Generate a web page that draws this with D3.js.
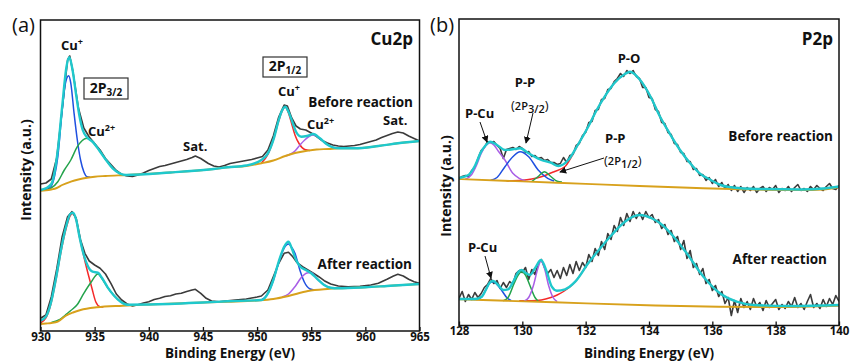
<!DOCTYPE html>
<html>
<head>
<meta charset="utf-8">
<script src="https://cdn.jsdelivr.net/npm/d3@7"></script>
<style>
  body { margin: 0; background: #fff; }
  svg { display: block; font-family: "Open Sans", "Noto Sans", sans-serif; }
</style>
</head>
<body>
<svg id="chart" width="852" height="363"></svg>
<script>
// ---- Cu 2p panel: [binding energy, intensity] ----
const cuTicks = [930, 935, 940, 945, 950, 955, 960, 965];

const cuBeforeRaw = [[930,147],[930.5,148],[931,152],[931.5,173],[932,221],[932.5,271],[932.7,275],[933,259],[933.5,223],[934,203],[934.5,194],[935,187.5],[935.5,181],[936,172.5],[936.5,166.5],[937,160.5],[937.5,156.5],[938,155],[938.5,154.5],[939,156],[939.5,158],[940,160.5],[940.5,162.5],[941,164.5],[941.5,165.5],[942,167],[942.5,168.5],[943,170],[943.5,171.5],[944,173.5],[944.3,175],[944.8,172.5],[945.5,167.5],[946,165],[946.5,164],[947,165.5],[947.5,167.5],[948,168.5],[948.5,169.5],[949,170.5],[949.5,171.5],[950,173],[950.5,174.5],[951,181],[951.5,195],[952,214],[952.5,226],[952.8,225],[953.2,213],[953.6,205],[954,202],[954.5,201],[955,198],[955.5,194.5],[956,190.5],[956.5,188],[957,186],[957.5,185],[958,184.5],[958.5,185],[959,185.5],[959.5,186.5],[960,188],[960.5,189.5],[961,191],[961.5,193.5],[962,195.5],[962.5,197.5],[963,199],[963.5,198],[964,195],[964.5,192.5],[965,190]];
const cuBeforeFit = [[930,141],[930.5,142.7],[931,147],[931.6,181],[932,224.3],[932.4,264.3],[932.66,273.7],[932.96,261],[933.27,237.7],[933.58,216],[933.9,201],[934.3,193.7],[934.8,189.3],[935.4,181],[936.05,171],[936.67,162.7],[937.3,157.7],[937.9,156],[942,158.5],[946,162],[947.3,163.7],[949,165.5],[950.4,171],[951,177.7],[951.55,192.7],[952,211],[952.3,220.3],[952.6,224.3],[952.9,219.3],[953.3,207.7],[953.6,199.3],[954.1,194.3],[954.6,195],[955.2,197],[955.8,192.7],[956.4,187],[957,183.7],[957.6,182.7],[959,182.7],[961.2,185],[963,187.7],[965,190]];
const cuBeforeBase = [[930,140.3],[930.5,140.6],[931,141.5],[931.5,143],[932,146],[932.8,149.3],[933.5,151.5],[934.3,153.3],[935,154.3],[936,155],[938,156],[942,158.5],[946,162],[947.3,163.7],[949,165],[950.4,167.7],[951.5,170.5],[952.6,175],[953.5,178],[954.5,180],[955.5,181.5],[956.6,182],[957.6,182.7],[959,182.7],[961.2,185],[963,187.7],[965,190]];
const cuBeforeCu1a = [[930.4,141],[930.95,144.3],[931.3,155],[931.6,174.3],[932,221],[932.3,247.7],[932.6,255.3],[932.8,247.7],[933.1,217.7],[933.4,191],[933.7,171],[934,159.3],[934.3,154.3],[934.6,153.8]];
const cuBeforeCu2a = [[930.5,140.8],[930.95,142.7],[931.6,149.3],[932.2,161],[932.8,171],[933.4,184.3],[934.3,192.7],[934.8,189],[935.4,181],[936.05,171],[936.67,162.7],[937.3,157.7],[937.9,156]];
const cuBeforeCu1b = [[950.4,168],[951,176.5],[951.5,191],[952,210],[952.3,219.5],[952.6,224],[952.9,218],[953.2,207],[953.5,196],[953.9,187],[954.4,181.5],[954.9,180.5]];
const cuBeforeCu2b = [[952.6,175],[953,176.5],[953.5,180],[954,186.5],[954.4,191],[954.8,194.5],[955.2,196],[955.8,192.7],[956.4,187],[957,183.7],[957.6,182.7]];

const cuAfterRaw = [[930,12.7],[930.5,16],[931,34.3],[931.5,62],[932,94.3],[932.5,114.3],[932.9,119.3],[933.3,112.7],[933.7,91],[934.1,77.7],[934.5,70],[935,66],[935.5,62.7],[936,57],[936.5,47.7],[937,37],[937.5,31],[938,27],[938.5,25],[939,26.3],[939.5,28],[940,29.3],[940.5,31.5],[941,32.7],[941.5,34.5],[942,35.3],[942.5,37],[943,37.7],[943.5,39.5],[944,41],[944.3,41.7],[944.8,37.7],[945.3,32.7],[945.8,30],[946.5,29.3],[947.3,30.3],[948,31],[948.5,31.5],[949,32],[949.5,33],[950,34],[950.4,35],[951,41],[951.5,54.3],[952,67.7],[952.5,77.7],[952.9,78.7],[953.3,74.3],[953.7,68.3],[954.2,64.3],[954.7,61],[955.2,57.7],[955.7,54.3],[956.2,50.3],[956.8,47],[957.5,45],[958.4,44.3],[959.5,44.7],[960.5,46],[961.2,47.7],[962,51.7],[962.6,55],[963,56.7],[963.5,55],[964,51.7],[964.5,49.3],[965,47.7]];
const cuAfterFit = [[930,10.3],[930.5,14.3],[930.95,27.7],[931.4,51],[931.95,84.3],[932.4,106],[932.75,117],[933,118.3],[933.3,111],[933.6,94.3],[934,76],[934.4,64.3],[934.8,59.3],[935.3,58.3],[935.7,52.7],[936.2,43.7],[936.8,35.3],[937.4,29.3],[938,26.3],[940,26.5],[945,28.5],[947.3,29.7],[950.4,31],[951,37.7],[951.5,51],[952,69.3],[952.5,84.3],[952.9,89.3],[953.2,82.7],[953.6,71],[954,64.3],[954.5,61],[955,57.7],[955.6,51.7],[956.2,46],[956.8,43.3],[957.5,42.7],[960,43.7],[962,45],[965,47]];
const cuAfterBase = [[930,7],[930.5,7.5],[931,8],[931.6,9.3],[932.3,15],[933,18.5],[933.7,21],[935.2,23.7],[937.6,25.3],[940,26.5],[945,28.5],[947.3,29.3],[950,30.5],[951.5,32],[952.9,35],[954.7,40],[956.5,42],[957.5,42.7],[960,43.7],[962,45],[965,47]];
const cuAfterCu1a = [[930,8],[930.5,13],[930.95,26.5],[931.4,49.5],[931.95,82.5],[932.4,104],[932.75,115.5],[933,117.7],[933.3,110.5],[933.6,94],[933.85,82],[934.1,70],[934.4,57],[934.75,42.7],[935.1,29.3],[935.5,24.3],[935.8,23.9]];
const cuAfterCu2a = [[931,8.5],[931.8,11.5],[932.3,16],[932.8,20.5],[933.4,26.5],[934,37.7],[934.7,49.3],[935.3,57],[935.7,52],[936.2,43.5],[936.8,35.3],[937.4,29.3],[938,26.3]];
const cuAfterCu1b = [[950.4,31],[951,37.5],[951.5,50.5],[952,68.5],[952.5,83],[952.9,87],[953.2,83.5],[953.5,77.7],[953.95,61],[954.35,49.3],[954.9,42],[955.3,41]];
const cuAfterCu2b = [[952.3,34],[952.9,37],[953.5,44.3],[954.1,53.7],[954.6,58],[954.95,58.5],[955.6,51.5],[956.2,46],[956.8,43.3],[957.5,42.7]];

// ---- P 2p panel ----
const pTicks = [128, 130, 132, 134, 136, 138, 140];
const pEnergy = d3.range(121).map(i => +(128 + i * 0.1).toFixed(1));   // raw scan grid, 0.1 eV

const pBeforeRaw = [147,149,150,149,155,158,167,175,178,184,183,184,180,177,167,176,177,178,176,179,
  177,173,174,169,170,167,168,165,166,163,163,161,162,168,163,170,171,180,182,190,
  193,203,204,215,216,226,227,236,237,244,247,252,249,255,252,255,249,247,238,238,
  228,227,216,214,203,202,193,191,182,181,173,172,164,164,156,157,150,151,145,148,
  142,146,139,143,137,141,135,140,134,139,133,138,135,139,133,137,139,134,138,136,
  140,133,137,135,139,134,138,141,135,137,134,139,136,140,137,135,139,142,137,136,140];
const pBeforeFit = [[128,147.5],[128.3,150.5],[128.5,159.5],[128.7,173.8],[128.85,180.5],[128.98,183.8],[129.2,180.5],[129.45,175.5],[129.7,176.2],[129.93,177.2],[130.2,172.2],[130.6,165.5],[130.9,162.8],[131.14,159.5],[131.45,165.5],[131.75,180.5],[132.08,198.8],[132.35,215.5],[132.6,228.8],[132.9,242.2],[133.24,251.5],[133.4,253.8],[133.72,245.5],[134.05,228.8],[134.35,208.8],[134.65,192.2],[134.98,175.5],[135.3,162.2],[135.6,152.2],[135.95,145.5],[136.26,140.5],[136.6,138.2],[136.9,137.2],[137.5,136.5],[138.8,136],[139.5,137],[140,139]];
const pBeforeBase = [[128,146.5],[130,144.1],[132,141.6],[133.7,139.5],[135.5,137.5],[136.9,136.2],[138.8,135.5],[139.5,136],[140,138.5]];
const pBeforePCu = [[128.2,146.3],[128.4,151],[128.55,160],[128.7,172],[128.85,180],[128.98,182.8],[129.1,180.5],[129.25,174],[129.45,165.5],[129.7,152.2],[129.9,147.2],[130.1,144.8]];
const pBeforePP32 = [[129,145.3],[129.2,148],[129.45,158.8],[129.7,168.8],[129.93,173.8],[130.2,168.8],[130.5,155.5],[130.8,147.2],[131,144.5]];
const pBeforePP12 = [[130.3,144],[130.5,149],[130.7,153.8],[130.9,149],[131.1,144.3],[131.25,143.5]];
const pBeforePO = [[129.5,144.6],[130,145.2],[130.3,146.5],[130.6,148.8],[131,153.8],[131.35,159],[131.75,180.5],[132.08,198.8],[132.35,215.5],[132.6,228.8],[132.9,242.2],[133.24,251.5],[133.4,253.8],[133.72,245.5],[134.05,228.8],[134.35,208.8],[134.65,192.2],[134.98,175.5],[135.3,162.2],[135.6,152.2],[135.95,145.5],[136.26,140.5],[136.6,138.2],[136.9,137.2],[137.5,136.3]];

const pAfterRaw = [27,34,24,31,26,33,28,32,38,41,47,42,45,37,43,38,44,41,52,55,
  53,58,46,56,51,62,66,58,52,56,48,55,47,58,50,61,52,64,55,63,
  58,71,64,77,70,84,76,92,86,100,94,108,100,112,104,114,107,113,106,114,
  108,111,103,106,97,101,91,95,84,89,76,85,67,75,58,62,51,57,42,46,
  35,40,29,34,22,28,10,25,13,27,18,24,16,27,19,23,15,25,18,22,
  26,16,21,17,24,19,28,18,22,16,24,31,18,22,17,26,19,27,21,30,24];
const pAfterFit = [[128,26.5],[128.5,26.5],[128.72,28.8],[128.87,37.2],[128.97,42.8],[129.08,44.5],[129.24,40.5],[129.4,35.5],[129.55,36.2],[129.74,45.5],[129.88,53.8],[129.98,55.5],[130.1,52.8],[130.24,50.5],[130.4,57.2],[130.59,65.5],[130.77,53.8],[130.93,38.8],[131.09,34.8],[131.35,36.2],[131.67,43.8],[132.08,62.2],[132.5,78.8],[132.82,90.5],[133.24,103.8],[133.7,110.5],[134.1,107],[134.35,102.2],[134.8,88],[135.19,72.2],[135.72,48.8],[136.24,32.2],[136.77,23.8],[137.3,20.5],[138.5,19.5],[140,20.5]];
const pAfterBase = [[128,26.2],[131,23.2],[134.2,20],[136.2,18.8],[138,18.4],[140,19.8]];
const pAfterPCu = [[128.55,25.7],[128.72,28.8],[128.87,37],[128.97,42.5],[129.08,43.8],[129.2,41],[129.35,35],[129.52,27.5],[129.65,24.8]];
const pAfterPP32 = [[129.4,24.8],[129.55,28],[129.74,42],[129.88,51],[129.98,53.8],[130.1,50.5],[130.24,40],[130.4,28],[130.5,24.5]];
const pAfterPP12 = [[130.05,24.2],[130.2,28],[130.35,40],[130.48,56],[130.59,64.5],[130.7,57],[130.83,40],[130.97,28],[131.1,23.8]];
const pAfterPO = [[129.9,24.7],[130.3,24.8],[130.6,25.5],[130.9,28],[131.1,30.5],[131.35,35],[131.67,43.8],[132.08,62.2],[132.5,78.8],[132.82,90.5],[133.24,103.8],[133.7,110.5],[134.1,107],[134.35,102.2],[134.8,88],[135.19,72.2],[135.72,48.8],[136.24,32.2],[136.77,23.8],[137.3,20.5]];

const colors = {
  raw: '#3b3b3b', fit: '#1fc8cc', base: '#d8a11c',
  blue: '#1f50e0', green: '#23a34b', red: '#f42a2a', purple: '#a95fe6'
};

const svg = d3.select('#chart');

// arrow head for the annotation pointers
svg.append('defs').append('marker')
  .attr('id', 'arrow')
  .attr('viewBox', '0 0 8 8')
  .attr('refX', 7).attr('refY', 4)
  .attr('markerWidth', 7).attr('markerHeight', 7)
  .attr('markerUnits', 'userSpaceOnUse')
  .attr('orient', 'auto')
  .append('path').attr('d', 'M0,0 L8,4 L0,8 z').attr('fill', '#111');

function drawPanel(p) {
  const x = d3.scaleLinear().domain(p.xDomain).range([p.left, p.right]);
  const y = d3.scaleLinear().domain(p.yDomain).range([p.bottom, p.top]);

  svg.select('defs').append('clipPath').attr('id', p.id + '-clip')
    .append('rect')
    .attr('x', p.left).attr('y', p.top)
    .attr('width', p.right - p.left).attr('height', p.bottom - p.top);

  const g = svg.append('g').attr('clip-path', `url(#${p.id}-clip)`);

  const rawLine = d3.line().x(d => x(d[0])).y(d => y(d[1]));
  const smooth = d3.line().x(d => x(d[0])).y(d => y(d[1])).curve(d3.curveMonotoneX);

  p.spectra.forEach(s => {
    g.append('path').datum(s.raw).attr('d', rawLine)
      .attr('fill', 'none').attr('stroke', colors.raw).attr('stroke-width', 1.6)
      .attr('stroke-linejoin', 'round');
    s.parts.forEach(c => {
      g.append('path').datum(c.data).attr('d', smooth)
        .attr('fill', 'none').attr('stroke', colors[c.color]).attr('stroke-width', 1.5);
    });
    g.append('path').datum(s.base).attr('d', smooth)
      .attr('fill', 'none').attr('stroke', colors.base).attr('stroke-width', 1.9);
    g.append('path').datum(s.fit).attr('d', smooth)
      .attr('fill', 'none').attr('stroke', colors.fit).attr('stroke-width', 2.4);
  });

  // bottom axis with inward ticks
  const axis = svg.append('g')
    .attr('transform', `translate(0,${p.bottom})`)
    .call(d3.axisBottom(x).tickValues(p.ticks).tickSizeInner(-4).tickSizeOuter(0).tickPadding(1.5));
  axis.select('.domain').remove();
  axis.selectAll('.tick line').attr('stroke', '#111').attr('stroke-width', 1.3);
  axis.selectAll('.tick text')
    .attr('fill', '#111').style('font-size', '11.5px').style('font-weight', 700)
    .style('font-family', '"Open Sans", "Noto Sans", sans-serif');

  // frame
  svg.append('rect')
    .attr('x', p.left).attr('y', p.top)
    .attr('width', p.right - p.left).attr('height', p.bottom - p.top)
    .attr('fill', 'none').attr('stroke', '#111').attr('stroke-width', 1.5);

  // axis titles
  svg.append('text')
    .attr('x', (p.left + p.right) / 2).attr('y', 358)
    .attr('text-anchor', 'middle').style('font-size', '13.5px').style('font-weight', 700)
    .attr('fill', '#111').text('Binding Energy (eV)');
  svg.append('text')
    .attr('transform', `translate(${p.yTitleX},${p.yTitleY}) rotate(-90)`)
    .attr('text-anchor', 'middle').attr('dominant-baseline', 'middle')
    .style('font-size', '14px').style('font-weight', 700)
    .attr('fill', '#111').text('Intensity (a.u.)');
}

// text label made of pieces: [text, size, dy, weight]
function label(xp, yp, pieces, anchor) {
  const t = svg.append('text').attr('x', xp).attr('y', yp)
    .attr('text-anchor', anchor || 'start').attr('fill', '#111');
  pieces.forEach(pc => {
    t.append('tspan').text(pc[0])
      .style('font-size', pc[1] + 'px')
      .style('font-weight', pc[3] || 700)
      .attr('dy', pc[2] || 0);
  });
  return t;
}

function arrow(x1, y1, x2, y2) {
  svg.append('line').attr('x1', x1).attr('y1', y1).attr('x2', x2).attr('y2', y2)
    .attr('stroke', '#111').attr('stroke-width', 1).attr('marker-end', 'url(#arrow)');
}

drawPanel({
  id: 'cu', left: 40.5, right: 419.5, top: 20, bottom: 331,
  xDomain: [930, 965], yDomain: [0, 311], ticks: cuTicks,
  yTitleX: 27, yTitleY: 170,
  spectra: [
    { raw: cuBeforeRaw, fit: cuBeforeFit, base: cuBeforeBase, parts: [
      { data: cuBeforeCu1a, color: 'blue' }, { data: cuBeforeCu2a, color: 'green' },
      { data: cuBeforeCu1b, color: 'red' }, { data: cuBeforeCu2b, color: 'purple' } ] },
    { raw: cuAfterRaw, fit: cuAfterFit, base: cuAfterBase, parts: [
      { data: cuAfterCu1a, color: 'red' }, { data: cuAfterCu2a, color: 'green' },
      { data: cuAfterCu1b, color: 'blue' }, { data: cuAfterCu2b, color: 'purple' } ] }
  ]
});

drawPanel({
  id: 'p', left: 459, right: 839, top: 19, bottom: 325.5,
  xDomain: [128, 140], yDomain: [0, 306.5], ticks: pTicks,
  yTitleX: 447, yTitleY: 186,
  spectra: [
    { raw: pEnergy.map((e, i) => [e, pBeforeRaw[i]]), fit: pBeforeFit, base: pBeforeBase, parts: [
      { data: pBeforePO, color: 'red' }, { data: pBeforePCu, color: 'purple' },
      { data: pBeforePP32, color: 'blue' }, { data: pBeforePP12, color: 'green' } ] },
    { raw: pEnergy.map((e, i) => [e, pAfterRaw[i]]), fit: pAfterFit, base: pAfterBase, parts: [
      { data: pAfterPO, color: 'red' }, { data: pAfterPCu, color: 'blue' },
      { data: pAfterPP32, color: 'green' }, { data: pAfterPP12, color: 'purple' } ] }
  ]
});

// ---- annotations, panel (a) ----
label(12, 32, [['(a)', 20, 0, 400]]);
label(413, 45, [['Cu2p', 17]], 'end');
label(61, 50, [['Cu', 13], ['+', 9, -5]]);
svg.append('rect').attr('x', 84).attr('y', 78).attr('width', 44).attr('height', 21)
  .attr('fill', 'none').attr('stroke', '#333').attr('stroke-width', 1.2);
label(106, 93, [['2P', 14], ['3/2', 10, 3]], 'middle');
label(88, 136, [['Cu', 13], ['2+', 9, -5]]);
label(183, 151, [['Sat.', 13]]);
svg.append('rect').attr('x', 263).attr('y', 57).attr('width', 44).attr('height', 20)
  .attr('fill', 'none').attr('stroke', '#333').attr('stroke-width', 1.2);
label(285, 71, [['2P', 14], ['1/2', 10, 3]], 'middle');
label(278, 96, [['Cu', 13], ['+', 9, -5]]);
label(413, 107, [['Before reaction', 13.5]], 'end');
label(307, 129, [['Cu', 13], ['2+', 9, -5]]);
label(383, 125, [['Sat.', 13]]);
label(412, 269, [['After reaction', 13.5]], 'end');

// ---- annotations, panel (b) ----
label(430, 32, [['(b)', 20, 0, 400]]);
label(833, 45, [['P2p', 17]], 'end');
label(629, 63, [['P-O', 13]], 'middle');
label(525, 87, [['P-P', 13]], 'middle');
label(511, 110, [['(', 13, 0, 400], ['2P', 11, 0, 600], ['3/2', 11, 3, 600], [')', 13, -3, 400]]);
label(465, 118, [['P-Cu', 13]]);
label(605, 143, [['P-P', 13]]);
label(604, 165, [['(', 13, 0, 400], ['2P', 11, 0, 600], ['1/2', 11, 3, 600], [')', 13, -3, 400]]);
label(833, 141, [['Before reaction', 13.5]], 'end');
label(827, 264, [['After reaction', 13.5]], 'end');
label(468, 252, [['P-Cu', 13]]);
arrow(480, 122, 487, 142);
arrow(533, 113, 526, 143);
arrow(604, 158, 560, 172);
arrow(485, 256, 491, 278);
</script>
</body>
</html>
